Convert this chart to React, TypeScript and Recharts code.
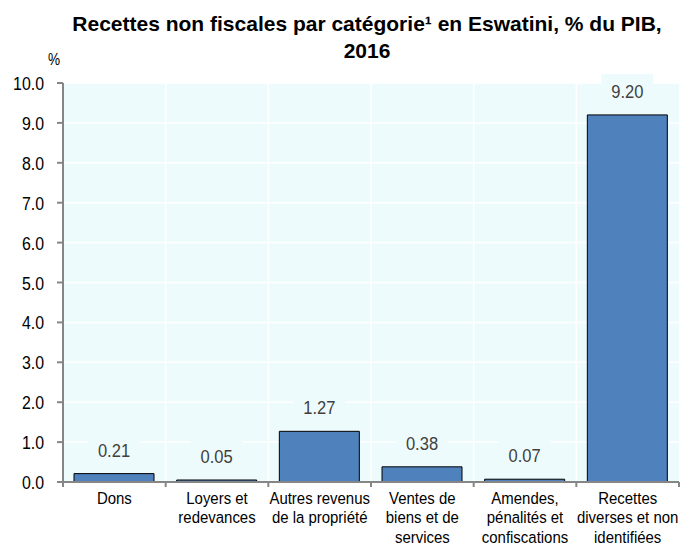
import React from 'react';
import { BarChart, Bar, XAxis, YAxis, CartesianGrid, LabelList } from 'recharts';

const categories = [
  'Dons',
  'Loyers et\nredevances',
  'Autres revenus\nde la propriété',
  'Ventes de\nbiens et de\nservices',
  'Amendes,\npénalités et\nconfiscations',
  'Recettes\ndiverses et non\nidentifiées',
];
const values = [0.21, 0.05, 1.27, 0.38, 0.07, 9.2];
const yTicks = [0, 1, 2, 3, 4, 5, 6, 7, 8, 9, 10];

const data = categories.map((c, i) => ({ name: c, value: values[i] }));

const W = 681;
const H = 548;
const BG = '#EEFBFC';
const AXIS = '#868686';
const BAND = 616 / 6;
const FONT = '"Liberation Sans", Arial, sans-serif';

const SText = ({ x, y, size, sx = 0.87, anchor = 'middle', fill = '#000', weight = 'normal', children }: any) => (
  <text
    transform={`translate(${x} ${y}) scale(${sx} 1)`}
    x={0}
    y={0}
    textAnchor={anchor}
    fontSize={size}
    fill={fill}
    fontWeight={weight}
    fontFamily={FONT}
  >
    {children}
  </text>
);

const XTick = (props: any) => {
  const { x, y, payload, index } = props;
  const lines = String(payload.value).split('\n');
  const left = x - BAND / 2;
  const right = x + BAND / 2;
  return (
    <g>
      <line x1={left} x2={left} y1={y} y2={y + 5} stroke={AXIS} strokeWidth={2} />
      {index === categories.length - 1 && (
        <line x1={right} x2={right} y1={y} y2={y + 5} stroke={AXIS} strokeWidth={2} />
      )}
      {lines.map((l, i) => (
        <SText key={i} x={x} y={y + 21.5 + i * 19.5} size={17} sx={0.88}>
          {l}
        </SText>
      ))}
    </g>
  );
};

const YTick = (props: any) => {
  const { x, y, payload } = props;
  return (
    <SText x={x - 11} y={y + 7} size={18.5} sx={0.86} anchor="end">
      {Number(payload.value).toFixed(1)}
    </SText>
  );
};

const ValueLabel = (props: any) => {
  const { x, y, width, value } = props;
  const cx = x + width / 2;
  return (
    <g>
      <rect x={cx - 26} y={y - 41} width={52} height={34} fill={BG} />
      <SText x={cx} y={y - 17} size={19} sx={0.87} fill="#404040">
        {Number(value).toFixed(2)}
      </SText>
    </g>
  );
};

export default function App() {
  return (
    <div style={{ position: 'absolute', left: 0, top: 0, width: W, height: H, background: '#fff' }}>
      <div style={{ position: 'absolute', left: 0, top: 0 }}>
        <BarChart width={W} height={H} data={data} margin={{ top: 83, right: 2, left: 8, bottom: 0 }} barSize={80}>
          <CartesianGrid
            fill={BG}
            stroke="#ffffff"
            strokeWidth={1.5}
            horizontalValues={yTicks}
            verticalCoordinatesGenerator={({ offset }: any) =>
              categories.slice(1).map((_, i) => offset.left + (i + 1) * (offset.width / categories.length))
            }
          />
          <XAxis
            dataKey="name"
            interval={0}
            height={66}
            tickSize={0}
            tickMargin={0}
            tickLine={false}
            axisLine={{ stroke: AXIS, strokeWidth: 2 }}
            tick={<XTick />}
          />
          <XAxis xAxisId="top" dataKey="name" orientation="top" height={0} tick={false} tickLine={false} axisLine={{ stroke: AXIS, strokeWidth: 2 }} />
          <YAxis
            domain={[0, 10]}
            ticks={yTicks}
            width={55}
            tickSize={6}
            tickLine={{ stroke: AXIS, strokeWidth: 2 }}
            axisLine={{ stroke: AXIS, strokeWidth: 2 }}
            tick={<YTick />}
            interval={0}
          />
          <YAxis yAxisId="right" orientation="right" domain={[0, 10]} width={0} tick={false} tickLine={false} axisLine={{ stroke: AXIS, strokeWidth: 2 }} />
          <Bar dataKey="value" fill="#4F81BD" stroke="#000" strokeWidth={1} isAnimationActive={false}>
            <LabelList dataKey="value" content={<ValueLabel />} />
          </Bar>
        </BarChart>
      </div>
      <svg width={W} height={70} style={{ position: 'absolute', left: 0, top: 0 }}>
        <SText x={367} y={31} size={21} sx={1} weight="bold">
          Recettes non fiscales par catégorie¹ en Eswatini, % du PIB,
        </SText>
        <SText x={367} y={58} size={21} sx={1} weight="bold">
          2016
        </SText>
        <SText x={54} y={65} size={16} sx={0.85}>
          %
        </SText>
      </svg>
    </div>
  );
}
